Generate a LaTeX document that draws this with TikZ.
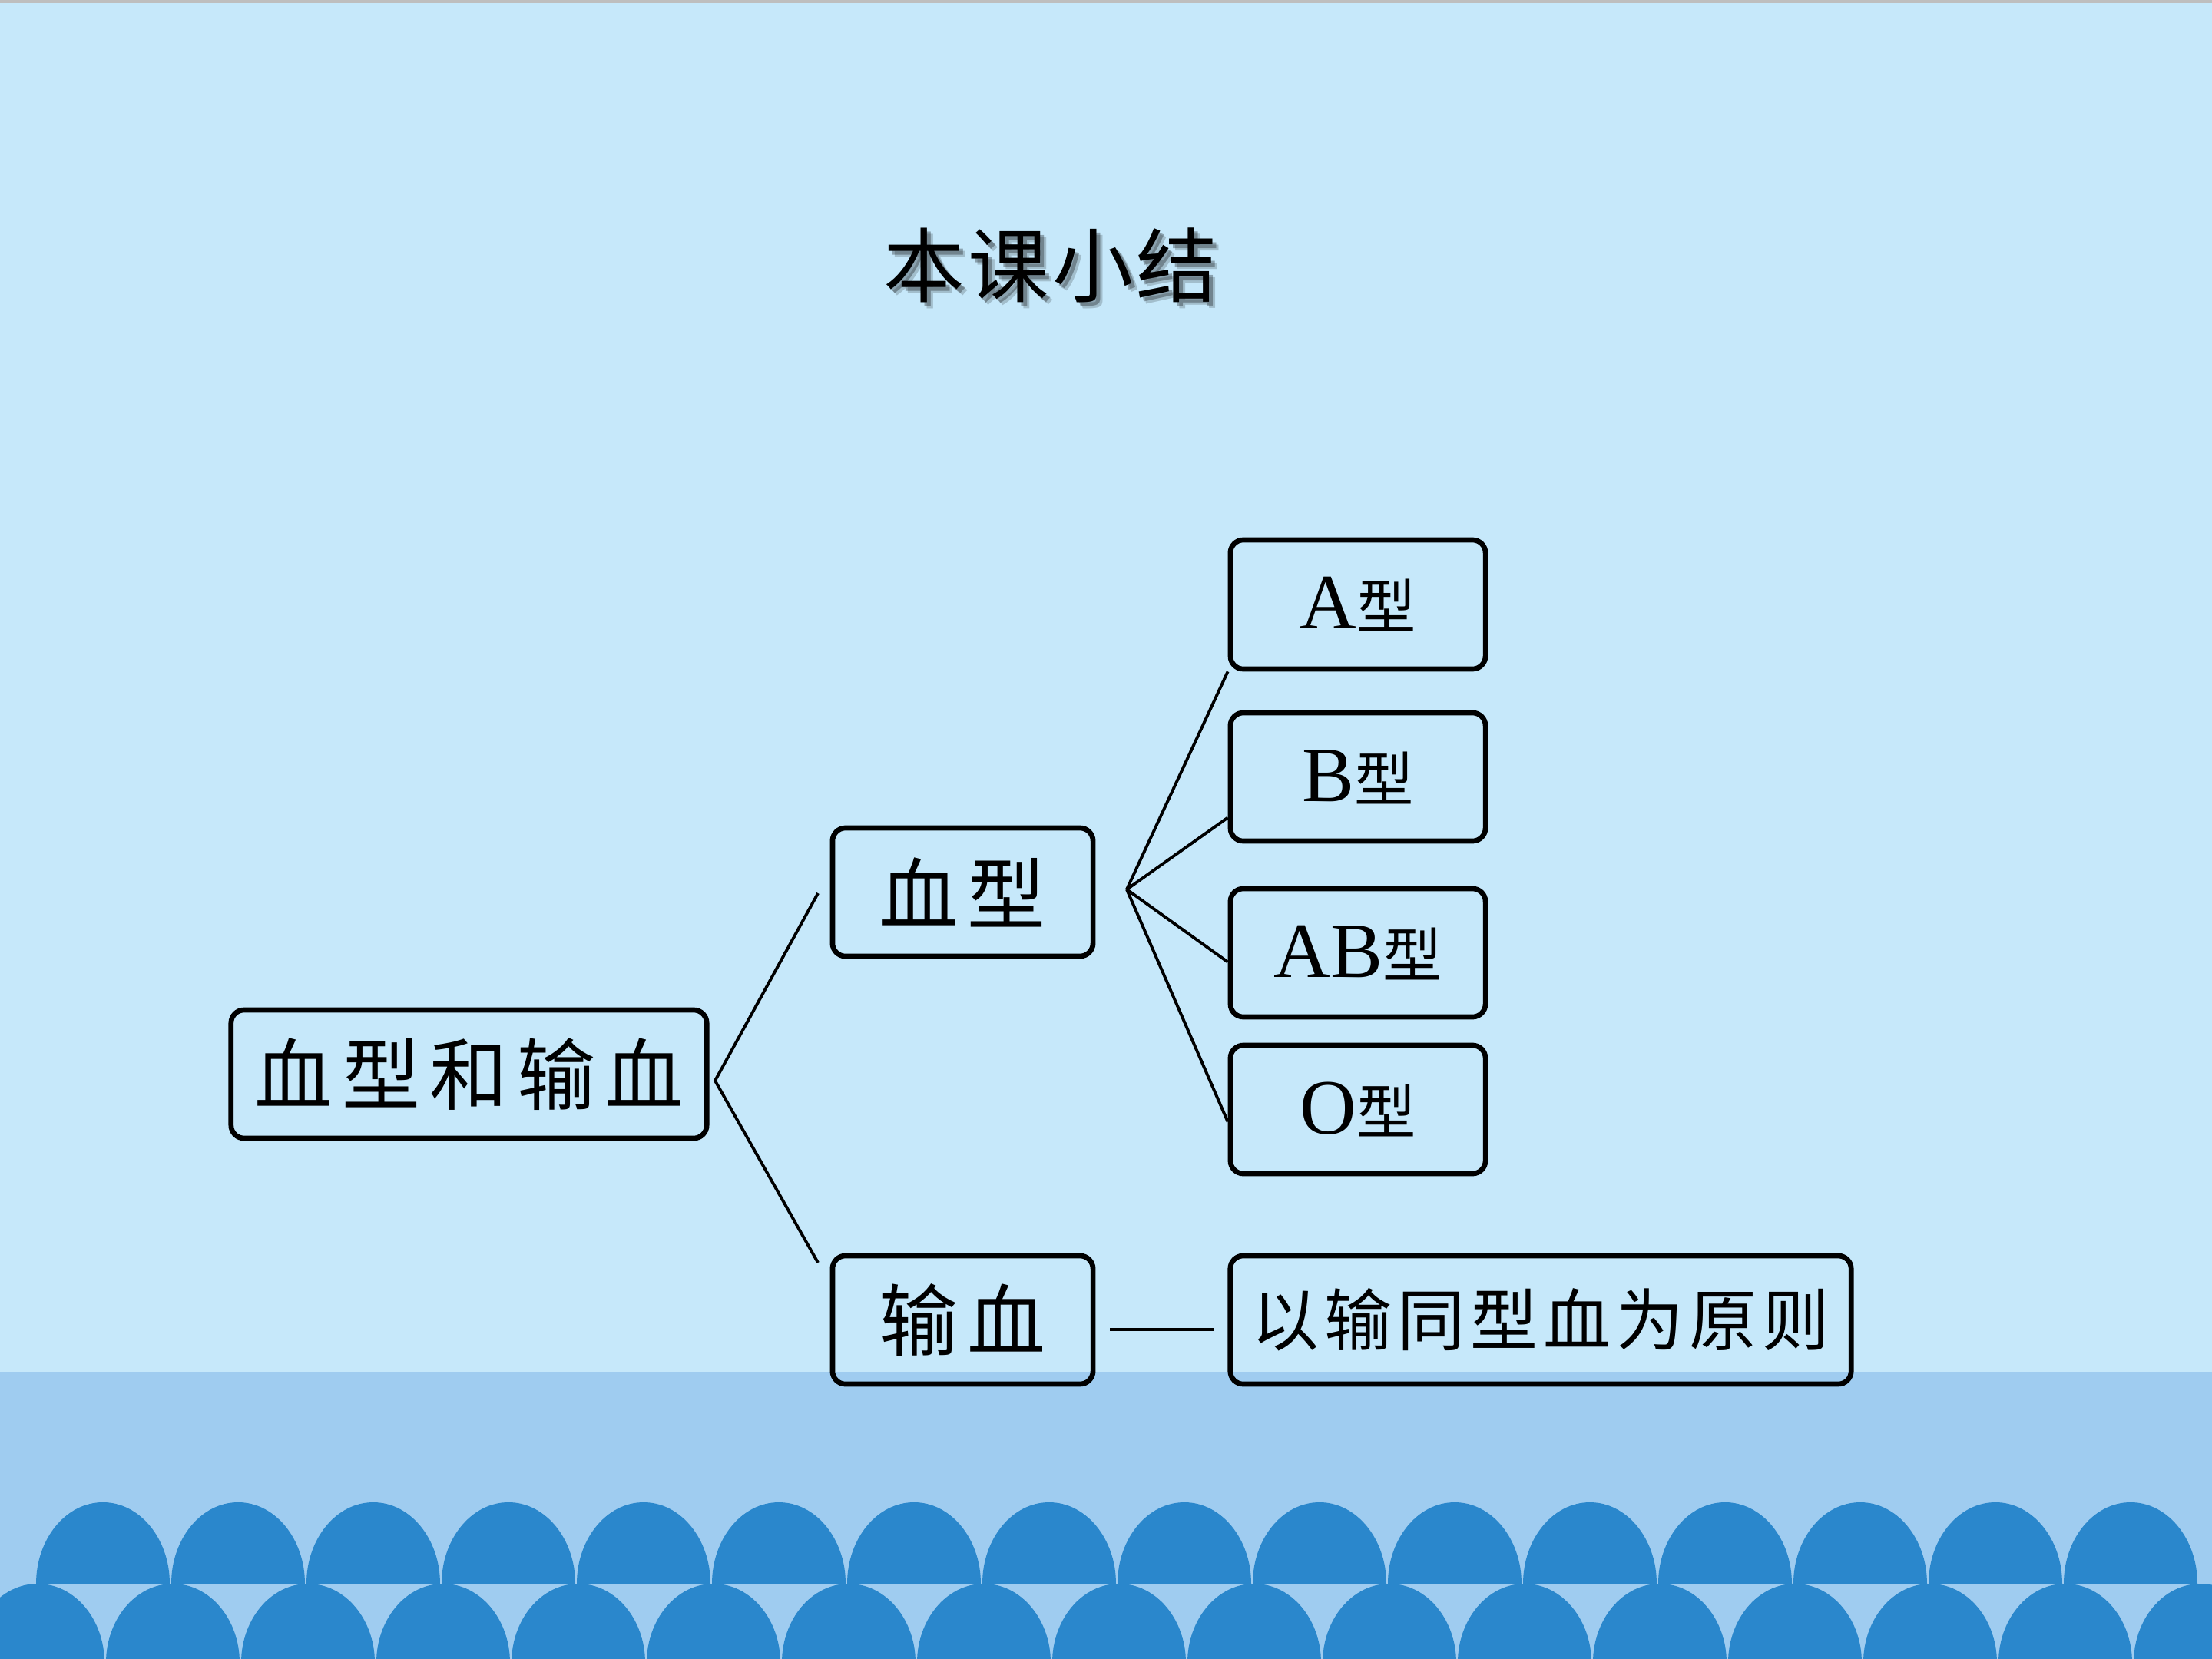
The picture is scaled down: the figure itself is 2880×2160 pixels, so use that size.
\documentclass[tikz,border=0pt]{standalone}
\usepackage{fontspec}
\setmainfont{Liberation Serif}
\newfontfamily\cjk[LetterSpace=8]{Noto Sans CJK SC}
\newfontfamily\cjkwide[LetterSpace=12]{Noto Sans CJK SC}
\newfontfamily\cjktitle[LetterSpace=4]{Noto Sans CJK SC}
\definecolor{bgtop}{HTML}{C6E8FA}
\definecolor{band}{HTML}{9FCCF0}
\definecolor{arch}{HTML}{2A87CC}
\definecolor{topline}{HTML}{BEBEBE}
\tikzset{
  box/.style={draw=black, line width=1.9pt, rounded corners=0.17cm, inner sep=0pt, align=center},
  link/.style={draw=black, line width=1.1pt},
  bigtxt/.style={font=\fontsize{29}{31}\selectfont\cjkwide},
  typetxt/.style={font=\fontsize{29}{30}\selectfont},
}
\newcommand{\xing}{{\fontsize{22}{24}\selectfont\cjk 型}}
\begin{document}
\begin{tikzpicture}[x=0.01cm,y=-0.01cm]
\useasboundingbox (0,0) rectangle (2880,2160);
% background
\fill[bgtop] (0,0) rectangle (2880,2160);
\fill[topline] (0,0) rectangle (2880,4);
\fill[band] (0,1786) rectangle (2880,2160);
% scallops row 1
\begin{scope}
\clip (0,1900) rectangle (2880,2062);
\foreach \k in {0,...,15} {
  \fill[arch] ({134+176*\k},2062) ellipse [x radius=87, y radius=106];
}
\end{scope}
% scallops row 2
\begin{scope}
\clip (0,2000) rectangle (2880,2160);
\foreach \k in {-1,...,16} {
  \fill[arch] ({225+176*\k},2165) ellipse [x radius=87, y radius=103];
}
\end{scope}
% title with shadow
\foreach \d/\o in {8/0.18,5/0.3}{
  \node[text=black, opacity=\o, font=\fontsize{30}{32}\selectfont\cjktitle] at ({1368+\d},{345+\d}) {本课小结};
}
\node[font=\fontsize{30}{32}\selectfont\cjktitle] (title) at (1368,345) {本课小结};
% boxes
\node[box, bigtxt, minimum width=6.19cm, minimum height=1.67cm] (main) at (610.5,1398.5) {血型和输血};
\node[box, bigtxt, minimum width=3.39cm, minimum height=1.67cm] (xx) at (1253.5,1161.5) {血型};
\node[box, bigtxt, minimum width=3.39cm, minimum height=1.67cm] (sx) at (1253.5,1718.5) {输血};
\node[box, typetxt, minimum width=3.32cm, minimum height=1.68cm] (A) at (1768,787) {A\xing};
\node[box, typetxt, minimum width=3.32cm, minimum height=1.67cm] (B) at (1768,1011.5) {B\xing};
\node[box, typetxt, minimum width=3.32cm, minimum height=1.67cm] (AB) at (1768,1240.5) {AB\xing};
\node[box, typetxt, minimum width=3.32cm, minimum height=1.67cm] (O) at (1768,1444.5) {O\xing};
\node[box, font=\fontsize{25}{27}\selectfont\cjk, minimum width=8.08cm, minimum height=1.67cm] (yz) at (2006,1718.5) {以输同型血为原则};
% connector coordinates
\coordinate (f1) at (931,1407);
\coordinate (f1a) at (1065,1163);
\coordinate (f1b) at (1065,1644);
\coordinate (f2) at (1467,1158);
\coordinate (h1) at (1445,1731);
\coordinate (h2) at (1580,1731);
% connectors
\draw[link] (f1a) -- (f1) -- (f1b);
\draw[link] (f2) -- (A.south west);
\draw[link] (f2) -- ([yshift=-0.53cm]B.west);
\draw[link] (f2) -- ([yshift=-0.12cm]AB.west);
\draw[link] (f2) -- ([yshift=-0.16cm]O.west);
\draw[link] (h1) -- (h2);
\end{tikzpicture}
\end{document}
